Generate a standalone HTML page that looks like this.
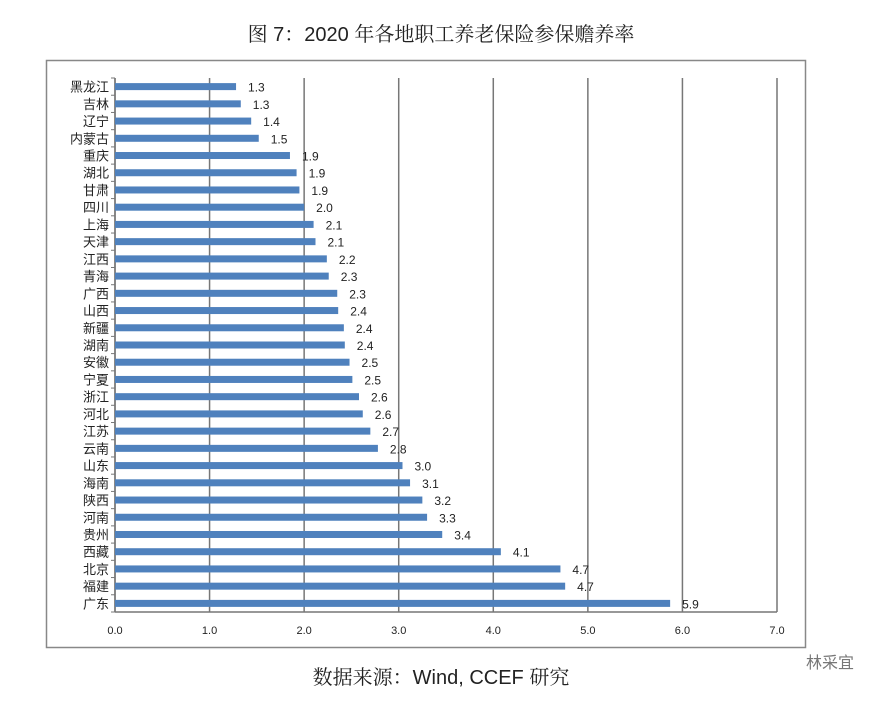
<!DOCTYPE html>
<html><head><meta charset="utf-8"><style>
body{margin:0;background:#fff;width:883px;height:700px;overflow:hidden;font-family:"Liberation Sans","Noto Sans CJK SC",sans-serif}
</style></head><body>
<svg width="883" height="700" xmlns="http://www.w3.org/2000/svg">
<text x="441" y="41" text-anchor="middle" font-size="20" fill="#222" font-family="Liberation Sans,Noto Serif CJK SC,serif">图 7：2020 年各地职工养老保险参保赡养率</text>
<rect x="46.5" y="60.5" width="759" height="587" fill="none" stroke="#888" stroke-width="1.5"/>
<g id="g"></g>
<text x="441" y="684" text-anchor="middle" font-size="20" fill="#222" font-family="Liberation Sans,Noto Serif CJK SC,serif">数据来源：Wind, CCEF 研究</text>
<text x="830" y="668" text-anchor="middle" font-size="16" fill="#777">林采宜</text>
</svg>
<script>
const categories=["黑龙江","吉林","辽宁","内蒙古","重庆","湖北","甘肃","四川","上海","天津","江西","青海","广西","山西","新疆","湖南","安徽","宁夏","浙江","河北","江苏","云南","山东","海南","陕西","河南","贵州","西藏","北京","福建","广东"];
const values=[1.28,1.33,1.44,1.52,1.85,1.92,1.95,2.0,2.10,2.12,2.24,2.26,2.35,2.36,2.42,2.43,2.48,2.51,2.58,2.62,2.70,2.78,3.04,3.12,3.25,3.30,3.46,4.08,4.71,4.76,5.87];
const labels=["1.3","1.3","1.4","1.5","1.9","1.9","1.9","2.0","2.1","2.1","2.2","2.3","2.3","2.4","2.4","2.4","2.5","2.5","2.6","2.6","2.7","2.8","3.0","3.1","3.2","3.3","3.4","4.1","4.7","4.7","5.9"];
const ticks=[0,1,2,3,4,5,6,7];
const NS="http://www.w3.org/2000/svg",g=document.getElementById('g');
const x0=115,x1=777,plotTop=78,plotBot=612;
const X=v=>x0+(x1-x0)*v/7;
const step=(plotBot-plotTop)/categories.length;
const Y=i=>plotTop+step*(i+0.5);
function mk(t,a){const e=document.createElementNS(NS,t);for(const k in a)e.setAttribute(k,a[k]);g.appendChild(e);return e;}
ticks.forEach(t=>{
 const l=mk('line',{x1:X(t),x2:X(t),y1:plotTop,y2:plotBot,stroke:'#777','stroke-width':1.5});
 
 
 const tx=mk('text',{x:X(t),y:634,'text-anchor':'middle','font-size':11,fill:'#222'});tx.textContent=t.toFixed(1);
 
 
});
const ax=mk('line',{x1:x0,x2:x0,y1:plotTop,y2:plotBot,stroke:'#777','stroke-width':1.5});


const bx=mk('line',{x1:x0,x2:x1,y1:plotBot,y2:plotBot,stroke:'#777','stroke-width':1.5});


for(let i=0;i<=categories.length;i++){mk('line',{x1:x0-4,x2:x0,y1:plotTop+step*i,y2:plotTop+step*i,stroke:'#777'});}
categories.forEach((c,i)=>{
 const y=Y(i);
 const b=mk('rect',{x:x0,y:y-3.5,width:X(values[i])-x0,height:7,fill:'#4f81bd'});
 
 
 const cl=mk('text',{x:x0-6,y:y+5,'text-anchor':'end','font-size':13,fill:'#222'});cl.textContent=c;
 
 
 const vl=mk('text',{x:X(values[i])+12,y:y+5,'font-size':12,fill:'#222'});vl.textContent=labels[i];
 
 
});
</script>
</body></html>
